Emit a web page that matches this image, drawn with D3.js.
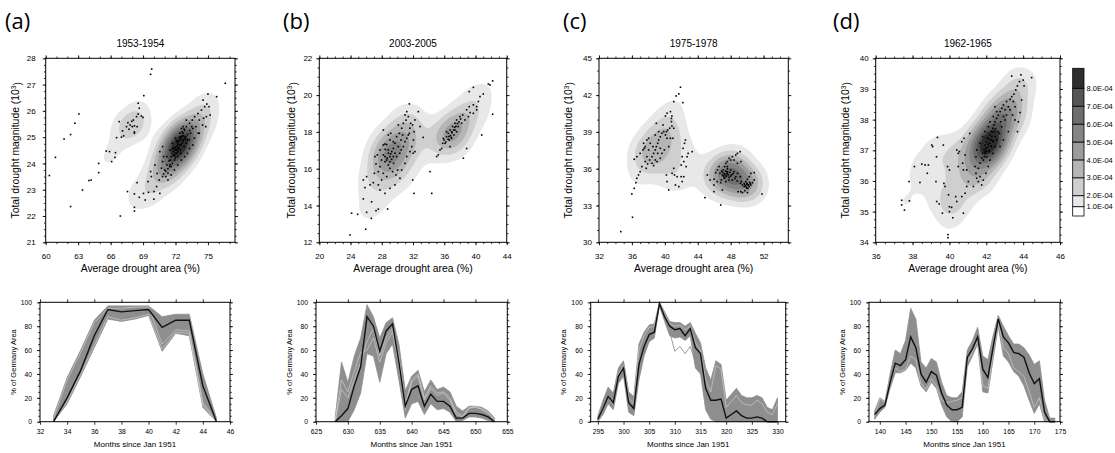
<!DOCTYPE html>
<html><head><meta charset="utf-8">
<script src="https://cdn.jsdelivr.net/npm/d3@7"></script>
<style>body{margin:0;background:#fff;} svg{display:block;background:#fff;}</style>
</head><body><svg id="c" width="1115" height="453"></svg>
<script>
// ---------------- DATA ----------------
const letters = ["(a)", "(b)", "(c)", "(d)"];
const titles = ["1953-1954", "2003-2005", "1975-1978", "1962-1965"];

// scatter (average drought area %, total drought magnitude 10^3)
const scatterA = [[60.34,23.54],[60.9,24.23],[61.7,24.93],[62.3,25.1],[62.7,25.53],[63.07,25.88],[62.3,22.36],[63.4,22.99],[64.0,23.35],[64.2,23.37],[64.9,23.65],[64.9,24.0],[65.6,24.47],[65.9,24.45],[66.1,24.07],[66.4,24.23],[66.45,24.41],[66.55,24.98],[66.8,25.59],[67.0,25.0],[67.2,25.05],[66.9,22.0],[69.07,26.58],[69.7,27.39],[69.8,27.59],[76.6,27.05],[75.8,26.54],[75.0,26.64],
[67.1,25.24],[67.47,25.4],[67.6,25.55],[67.8,25.46],[68.0,25.4],[68.1,25.65],[68.2,25.2],[68.4,25.78],[68.55,25.88],[68.45,25.4],[68.65,26.1],[68.55,26.29],[68.85,25.8],[69.0,25.75],[67.7,25.3],[68.2,25.43],[67.95,25.6],[68.2,25.15],
[68.45,23.27],[67.56,22.93],[68.2,22.84],[68.2,22.33],[68.2,22.19],[68.65,22.71],[69.04,22.86],[69.2,22.61],[69.5,22.9],[69.47,23.31],[69.77,23.5],[69.7,23.69],[70.0,22.64],[70.0,22.93],[70.25,23.12],[70.55,22.86],[70.5,23.37],[70.3,23.62],[70.1,23.94],[70.7,23.82],[70.8,24.07],[70.9,24.26],[71.1,23.5],[71.3,23.63],[71.47,23.88],[71.53,24.13],[71.8,24.32],[71.93,24.51],[72.1,24.64],[72.2,24.77],[72.4,24.9],[72.55,25.02],[72.7,25.15],[72.85,25.27],[73.0,25.4],[73.3,25.53],[73.55,25.65],[73.77,25.78],[74.08,25.9],[74.4,26.03],[74.7,26.16],[74.9,26.26],[75.1,26.16],[75.2,25.84],[74.85,25.78],[74.8,25.4],[74.2,25.15],[73.9,25.4],[73.4,25.15],[73.1,24.9],[72.8,24.64],[72.5,24.38],[72.2,24.26],[71.9,24.13],[71.6,23.88],[71.2,24.26],[71.5,24.51],[71.7,24.77],[72.0,24.96],[72.4,25.15],[72.7,25.4],[73.0,25.65],[72.55,25.33],[72.1,24.51],[72.3,24.57],[72.4,24.7],[72.0,24.38],[71.75,24.57],[72.6,24.77],[72.75,24.9],[72.15,24.83],[72.25,24.45],[72.9,25.02],[73.0,24.77],[73.27,24.9],[73.3,24.57],[73.6,24.7],[73.75,24.96],[74.1,25.15],[71.2,23.94],[71.0,23.75],[70.8,23.5],[71.3,23.37],[71.6,23.56],[71.9,23.75],[72.2,23.94],[72.55,24.13],[72.85,24.26],[73.1,24.38],[70.55,24.45],[70.8,24.64],[74.5,25.46],[74.6,25.72],[74.2,25.65],[73.6,25.33],[74.55,26.41],
[71.4,24.1],[71.6,24.25],[71.8,24.45],[72.0,24.6],[72.2,24.7],[72.3,24.85],[72.5,24.95],[72.7,25.05],[71.9,24.3],[72.1,24.4],[72.3,24.6],[72.5,24.7],[72.7,24.85],[72.9,24.95],[71.7,24.0],[71.5,23.95],[71.9,24.6],[72.1,24.85],[72.4,25.0],[72.6,25.2],[73.1,25.1],[73.3,25.25],[72.0,24.2],[71.3,23.8],[72.8,25.3],[73.5,25.4],[70.9,23.6],[71.1,23.7],[72.45,24.5],[72.2,24.55]];

const scatterB = [[23.93,12.4],[24.14,13.58],[24.91,13.52],[25.94,12.71],[26.66,13.3],[26.06,13.63],[26.7,14.2],[25.64,14.36],[27.26,13.72],[27.56,13.8],[28.75,13.81],
[25.64,15.39],[26.06,15.57],[25.85,14.97],[26.5,15.12],[26.92,15.24],[27.05,15.75],[27.26,16.26],[27.43,16.75],[27.13,16.66],[27.77,17.02],[28.2,17.29],[28.41,17.34],[28.63,17.31],[28.45,17.05],[28.84,16.84],[29.05,16.66],[29.27,16.93],[29.48,17.1],[28.7,16.57],[28.41,16.38],[28.84,16.2],[29.05,16.02],[29.39,15.84],[29.82,15.66],[30.03,15.93],[29.52,16.29],[29.9,16.66],[30.3,16.84],[30.5,17.02],[30.76,17.2],[30.97,17.47],[31.2,17.65],[31.4,17.83],[31.53,17.92],[31.6,18.2],[31.7,18.47],[31.1,18.64],[30.97,18.92],[31.2,19.1],[31.53,19.52],[31.4,18.83],[30.76,18.47],[30.55,18.2],[30.25,17.92],[29.9,17.74],[29.48,17.47],[29.14,17.92],[29.05,17.56],[28.41,16.66],[28.63,16.47],[29.05,16.38],[29.27,16.51],[29.48,16.66],[29.69,16.84],[29.14,16.81],[28.84,17.02],[28.2,16.75],[27.98,16.47],[27.77,16.11],[27.56,15.84],[28.2,15.75],[28.63,15.57],[27.98,15.39],[27.56,15.12],[27.77,14.84],[28.41,14.66],[29.05,14.93],[29.69,15.12],[30.33,15.48],[30.55,15.93],[30.97,16.29],[31.2,16.66],[31.6,16.93],[31.84,17.2],[32.05,17.56],[32.13,18.01],[31.95,18.38],[32.25,18.65],[32.68,19.1],[32.25,16.93],[32.04,16.84],[31.96,15.39],[32.13,14.66],[29.69,17.38],[30.12,17.2],[30.46,17.56],[30.67,17.83],[30.12,18.38],[28.2,18.1],[28.84,17.83],
[33.3,17.7],[34.18,15.84],[34.4,14.66],[32.9,18.29],
[35.03,16.66],[35.24,16.75],[35.46,17.02],[35.67,17.1],[35.8,17.38],[35.97,17.56],[36.3,17.74],[36.52,17.92],[36.74,18.1],[37.08,18.29],[37.38,18.47],[37.59,18.65],[38.0,18.83],[38.36,18.92],[38.87,19.2],[39.2,19.37],[39.3,19.05],[39.73,19.47],[40.15,19.37],[40.37,19.65],[40.58,19.92],[41.0,20.06],[39.2,20.19],[39.73,20.42],[41.65,20.6],[41.86,20.55],[42.2,20.77],[42.2,18.96],[40.8,17.83],[38.87,17.1],[38.45,16.57],[36.95,17.65],[36.1,17.38],[36.65,17.56],[37.25,17.83],[37.59,18.01],[37.8,18.29],[38.23,18.47],[38.66,18.65],[39.1,18.83],[36.3,18.01],[35.88,17.65],[36.95,18.01],[37.38,18.1],[36.74,17.2],[39.73,19.01],[40.15,19.2],
[36.5,17.6],[36.8,17.8],[37.0,17.95],[37.2,18.1],[37.5,18.3],[37.7,18.45],[36.2,17.45],[37.9,18.55],[38.1,18.7],[36.6,17.75],[37.35,18.25],[36.9,17.7]];

const scatterC = [[34.65,30.87],[36.07,32.04],[35.99,33.94],[36.28,34.4],[41.9,42.64],[41.7,42.1],[41.37,41.93],[41.08,41.47],[42.18,41.39],[40.68,40.65],[40.27,40.52],[40.07,40.3],[46.79,33.04],[44.87,33.64],[51.8,33.94],[43.32,37.39],
[36.48,34.86],[36.6,35.22],[36.8,35.49],[37.0,35.76],[37.21,36.17],[36.28,36.77],[36.6,36.98],[37.0,37.25],[37.34,37.53],[37.5,37.66],[37.62,37.8],[37.42,38.07],[37.82,38.34],[38.03,38.48],[38.23,38.07],[38.03,37.53],[37.82,36.98],[37.62,36.58],[38.15,36.71],[38.44,36.98],[38.64,37.25],[38.84,37.53],[38.97,37.8],[39.13,38.07],[39.25,38.34],[39.45,38.6],[39.65,38.89],[39.86,39.02],[40.07,38.75],[40.19,39.02],[40.27,38.48],[40.35,39.16],[40.6,39.3],[40.68,38.48],[40.47,37.8],[39.45,37.66],[39.13,37.25],[38.84,36.71],[38.44,36.44],[37.9,36.38],[37.74,36.03],[38.64,36.25],[39.05,36.58],[39.45,36.85],[39.65,37.25],[39.94,37.53],[39.25,39.02],[38.97,39.7],[38.84,38.75],[38.56,37.8],[39.78,39.56],[40.8,40.1],[40.86,40.3],[40.8,39.84],[40.86,39.48],[41.08,39.3],[40.98,38.48],
[41.08,36.03],[40.88,35.62],[40.19,35.49],[40.27,34.95],[40.47,34.27],[41.29,34.67],[41.7,34.54],[41.49,35.35],[41.98,36.3],[42.1,36.98],[42.22,37.66],[42.39,38.07],[42.5,38.34],[42.3,36.58],[41.98,35.35],[42.1,34.95],[42.3,35.35],[42.7,36.98],[42.83,37.25],[42.59,36.17],[41.17,35.49],
[45.16,35.49],[45.48,35.08],[45.97,34.67],[46.18,35.68],[46.38,35.9],[46.58,36.17],[46.7,35.62],[46.99,35.49],[47.11,35.9],[47.27,36.17],[47.4,36.44],[47.6,36.58],[47.8,36.85],[48.0,36.71],[48.2,36.98],[48.4,36.71],[48.62,37.12],[48.82,37.25],[49.15,37.39],[46.87,35.08],[47.2,35.22],[46.78,34.86],[45.97,35.14],[46.38,34.95],[47.4,34.95],[47.6,35.62],[48.0,35.9],[48.4,35.76],[48.82,35.62],[49.15,35.35],[49.3,34.95],[49.43,34.67],[49.64,34.81],[49.84,34.95],[50.04,35.14],[50.25,35.35],[50.45,35.62],[50.86,35.68],[49.23,34.13],[49.43,34.05],[49.72,34.21],[49.96,34.4],[50.25,34.54],[50.45,34.67],[50.66,34.86],[50.86,35.08],[48.82,36.44],[49.23,36.58],[47.6,36.17],[47.8,35.08],[46.99,34.27],[45.97,34.13],[48.2,35.08],[48.62,35.35],[49.64,34.54],[50.04,34.05],[48.9,34.13],
[47.0,35.7],[47.2,35.6],[47.4,35.8],[47.5,35.4],[47.7,35.5],[47.9,35.7],[47.3,35.3],[46.9,35.8],[47.6,36.0],[48.1,35.5],[49.8,34.6],[50.0,34.8],[50.2,34.7],[49.9,34.5],[50.3,34.9],[49.7,34.7],[50.1,34.4],[48.5,35.2],[48.8,35.0],[49.2,34.8],
[47.3,35.5],[47.5,35.6],[47.8,35.3],[48.0,35.4],[47.1,35.4],[50.1,34.65],[50.4,34.8],[49.95,34.75],[47.6,35.75],[48.3,35.6]];

const scatterD = [[37.41,35.37],[37.41,35.22],[37.56,35.05],[37.81,35.98],[37.83,35.35],[38.1,36.47],[38.4,35.95],[38.5,36.55],[38.68,36.52],[38.8,36.25],[38.86,36.52],[39.04,37.17],[39.09,37.12],[39.3,36.79],[39.27,35.98],[39.35,37.42],[39.31,35.33],[39.44,35.25],[39.67,37.17],[39.76,35.82],[39.7,35.92],[39.62,34.95],[39.9,36.47],[40.0,36.36],[39.95,35.55],[40.0,35.16],[40.0,35.0],[39.92,34.25],[39.92,34.15],[40.18,34.8],
[40.34,35.49],[40.4,35.33],[40.67,35.49],[40.85,35.6],[40.76,34.95],[40.12,35.14],[40.94,35.82],[41.03,35.98],[41.3,35.82],[40.94,36.36],[40.85,36.85],[40.76,36.36],[40.72,36.58],[40.48,36.47],[40.4,37.01],[40.48,36.9],[40.54,36.96],[40.67,37.28],[40.8,37.39],[41.1,37.55],
[41.39,36.47],[41.44,36.25],[41.48,36.09],[41.57,35.98],[41.66,36.14],[41.57,36.41],[41.66,36.58],[41.75,36.74],[41.8,36.9],[41.88,37.01],[41.93,37.17],[42.02,37.28],[42.11,37.39],[42.2,37.5],[42.29,37.61],[42.35,37.72],[42.42,37.83],[42.47,37.93],[42.56,38.04],[42.65,38.15],[42.75,38.26],[42.84,38.37],[42.93,38.48],[43.1,38.59],[43.29,38.66],[43.38,38.75],[43.5,38.83],[43.6,38.97],[43.69,39.1],[43.8,39.24],[43.88,39.46],[43.38,39.42],[44.0,39.29],[44.05,39.1],[44.46,39.37],[43.83,38.23],[43.74,37.93],[43.69,37.61],[43.92,38.64],[43.56,38.42],[43.29,38.32],[43.1,38.15],[43.02,37.99],[42.84,37.77],[42.71,37.55],[42.56,37.34],[42.47,37.12],[42.35,36.9],[42.2,36.68],[42.11,36.47],[41.98,36.25],[41.84,36.03],[41.75,35.87],[42.02,36.79],[42.16,36.96],[42.29,37.12],[42.38,37.28],[42.29,37.34],[42.11,37.12],[41.93,36.9],[41.84,36.68],[42.02,36.96],[42.2,37.23],[41.98,37.07],[42.47,37.45],[42.65,37.61],[42.78,37.93],[42.93,38.1],[43.02,38.32],[43.2,38.42],[42.56,38.26],[42.38,38.1],[42.2,37.93],[42.11,37.77],[41.93,37.61],[41.8,37.45],[41.66,37.23],[41.48,37.01],[41.44,36.79],[42.47,38.42],[43.47,38.59],[43.43,38.15],[43.56,37.99],[43.2,37.61],[42.93,37.34],[42.75,37.12],
[42.1,37.2],[42.2,37.35],[42.3,37.45],[42.0,37.05],[41.9,36.8],[42.4,37.6],[42.5,37.7],[41.95,36.95],[42.15,37.0],[42.25,37.15],[42.05,37.4],[42.35,37.3]];

// axis domains & tick labels (scatter)
const xDomA = [60, 77.5], yDomA = [21, 28], xTicksA = [60,63,66,69,72,75], yTicksA = [21,22,23,24,25,26,27,28];
const xDomB = [20, 44], yDomB = [12, 22], xTicksB = [20,24,28,32,36,40,44], yTicksB = [12,14,16,18,20,22];
const xDomC = [32, 55], yDomC = [30, 45], xTicksC = [32,36,40,44,48,52], yTicksC = [30,33,36,39,42,45];
const xDomD = [36, 46], yDomD = [34, 40], xTicksD = [36,38,40,42,44,46], yTicksD = [34,35,36,37,38,39,40];
// peak density of each panel (read from shading)
const peakA = 9.4e-4, peakB = 5.6e-4, peakC = 6.8e-4, peakD = 9.4e-4;

// density levels / colour bar
const levels = [1e-4,2e-4,3e-4,4e-4,5e-4,6e-4,7e-4,8e-4];
const levelLabels = ["1.0E-04","2.0E-04","3.0E-04","4.0E-04","5.0E-04","6.0E-04","7.0E-04","8.0E-04"];
const levelColors = ["#e8e8e8","#cfcfcf","#b5b5b5","#9c9c9c","#858585","#6e6e6e","#555555","#2e2e2e"];

// ensemble time series (% of Germany area)
const monthsA = [33,34,35,36,37,38,39,40,41,42,43,44,45];
const meanA  = [0,20,43,72,94,92,93,94,79,85,85,30,0];
const upA    = [5,37,60,85,97,97,97,97,88,90,90,40,3];
const loA    = [0,15,38,62,86,84,86,89,59,74,72,12,0];
const lightA1= [0,17,40,64,88,85,87,90,61,75,74,14,0];
const lightA2= [3,35,58,83,95,95,96,96,65,77,76,16,1];

const monthsB = [628,629,630,631,632,633,634,635,636,637,638,639,640,641,642,643,644,645,646,647,648,649,650,651,652,653];
const meanB  = [0,5,11,30,46,88,80,59,76,82,50,13,27,30,13,23,17,17,13,3,3,7,7,6,4,0];
const upB    = [3,50,33,55,70,98,88,70,83,87,65,26,38,43,25,35,27,29,25,13,9,13,13,12,9,3];
const loB    = [0,0,0,10,24,57,55,33,57,65,35,3,15,17,6,15,10,11,8,0,1,4,4,3,1,0];
const lightB1= [0,27,20,35,50,67,78,55,70,78,55,15,35,40,20,30,24,25,20,8,5,12,12,11,8,1];
const lightB2= [1,35,25,42,58,60,70,50,66,75,48,10,33,38,18,28,22,24,18,6,4,11,13,10,7,2];

const monthsC = [295,296,297,298,299,300,301,302,303,304,305,306,307,308,309,310,311,312,313,314,315,316,317,318,319,320,321,322,323,324,325,326,327,328,329,330];
const meanC  = [2,11,21,16,38,45,16,11,48,63,73,75,99,88,80,77,78,72,78,62,57,28,18,18,19,3,6,9,5,3,3,4,3,0,0,0];
const upC    = [5,18,29,24,45,51,25,21,65,75,81,82,100,92,84,83,83,80,83,74,66,45,35,51,48,18,23,28,22,20,20,22,20,12,10,20];
const loC    = [0,6,15,10,32,38,8,5,35,55,67,70,97,84,72,70,71,68,72,45,40,10,2,0,0,0,0,0,0,0,0,0,0,0,0,0];
const memberC= [1,9,18,13,35,42,12,8,45,60,70,73,98,86,75,59,63,57,63,50,45,20,10,45,42,8,15,20,15,12,12,15,12,5,3,12];
const lightC = [1,10,20,15,40,47,20,15,60,72,79,80,99,90,82,80,81,77,80,66,60,35,25,47,44,12,17,22,16,14,14,18,15,8,6,15];

const monthsD = [139,140,141,142,143,144,145,146,147,148,149,150,151,152,153,154,155,156,157,158,159,160,161,162,163,164,165,166,167,168,169,170,171,172,173,174];
const meanD  = [6,11,14,33,49,47,52,71,62,40,33,42,39,24,14,10,10,12,54,61,71,44,37,62,86,71,66,58,57,54,41,32,36,8,0,0];
const upD    = [9,20,17,40,60,57,68,95,86,50,45,53,50,33,22,20,20,25,60,68,79,55,52,72,89,80,72,65,65,62,56,48,51,18,3,3];
const loD    = [2,8,12,28,41,41,43,49,45,30,25,33,28,14,4,0,0,4,46,55,65,25,24,52,80,55,50,42,38,30,18,7,15,0,0,0];
const lightD = [4,19,16,35,45,42,44,55,52,32,27,36,30,18,16,17,18,20,50,58,68,30,28,58,84,62,57,45,42,38,25,12,20,2,0,0];

const xDomBotA = [32,46], xTicksBotA = [32,34,36,38,40,42,44,46];
const xDomBotB = [625,655], xTicksBotB = [625,630,635,640,645,650,655];
const xDomBotC = [293.6,331.6], xTicksBotC = [295,300,305,310,315,320,325,330];
const xDomBotD = [137.9,175], xTicksBotD = [140,145,150,155,160,165,170,175];
const yTicksBot = [0,20,40,60,80,100];

// ---------------- DRAWING ----------------
const FONT = '"Liberation Sans", Arial, Helvetica, sans-serif';
const svg = d3.select('#c');
const TOP_T = 58.3, TOP_B = 242.3, BOT_T = 302.3, BOT_B = 421.7;
const fmt = d => String(d);

function styleAxis(a, fs){
  a.select('.domain').remove();
  a.selectAll('line').attr('stroke','#000').attr('stroke-width',0.8);
  a.selectAll('text').attr('font-family',FONT).attr('font-size',fs).attr('fill','#000');
  return a;
}
function drawAxes(g, x, y, w, h, o){
  styleAxis(g.append('g').attr('transform',`translate(0,${h})`).call(d3.axisBottom(x).tickValues(o.xt).tickSize(3).tickPadding(o.px).tickFormat(fmt)), o.fs);
  styleAxis(g.append('g').call(d3.axisLeft(y).tickValues(o.yt).tickSize(3).tickPadding(o.py).tickFormat(fmt)), o.fs);
  styleAxis(g.append('g').call(d3.axisTop(x).tickValues(o.xt).tickSize(3).tickFormat('')), o.fs);
  styleAxis(g.append('g').attr('transform',`translate(${w},0)`).call(d3.axisRight(y).tickValues(o.yt).tickSize(3).tickFormat('')), o.fs);
  const dx = x.domain(), dy = y.domain();
  if (o.xm){
    const mt = d3.range(Math.ceil(dx[0]/o.xm)*o.xm, dx[1]+1e-9, o.xm);
    styleAxis(g.append('g').attr('transform',`translate(0,${h})`).call(d3.axisBottom(x).tickValues(mt).tickSize(1.8).tickFormat('')), o.fs);
    styleAxis(g.append('g').call(d3.axisTop(x).tickValues(mt).tickSize(1.8).tickFormat('')), o.fs);
  }
  if (o.ym){
    const mt = d3.range(Math.ceil(dy[0]/o.ym)*o.ym, dy[1]+1e-9, o.ym);
    styleAxis(g.append('g').call(d3.axisLeft(y).tickValues(mt).tickSize(1.8).tickFormat('')), o.fs);
    styleAxis(g.append('g').attr('transform',`translate(${w},0)`).call(d3.axisRight(y).tickValues(mt).tickSize(1.8).tickFormat('')), o.fs);
  }
  g.append('rect').attr('width',w).attr('height',h).attr('fill','none').attr('stroke','#000').attr('stroke-width',1);
}

const topPanels = [
  {id:'a', pts:scatterA, xd:xDomA, yd:yDomA, xt:xTicksA, yt:yTicksA, xm:1, ym:0.25, peak:peakA, left:45.7, right:235, lx:5, bw:10, py:7, yto:30.5},
  {id:'b', pts:scatterB, xd:xDomB, yd:yDomB, xt:xTicksB, yt:yTicksB, xm:1, ym:0.5, peak:peakB, left:319.3, right:506.7, lx:283, bw:11.5, py:4, yto:27.6},
  {id:'c', pts:scatterC, xd:xDomC, yd:yDomC, xt:xTicksC, yt:yTicksC, xm:1, ym:1, peak:peakC, left:599, right:788.3, lx:563, bw:11.5, py:4, yto:31},
  {id:'d', pts:scatterD, xd:xDomD, yd:yDomD, xt:xTicksD, yt:yTicksD, xm:0.5, ym:0.25, peak:peakD, left:875.7, right:1060, lx:833, bw:11, py:4, yto:30.7}
];

topPanels.forEach((p, i) => {
  const w = p.right - p.left, h = TOP_B - TOP_T;
  const g = svg.append('g').attr('transform',`translate(${p.left},${TOP_T})`);
  const x = d3.scaleLinear().domain(p.xd).range([0,w]);
  const y = d3.scaleLinear().domain(p.yd).range([h,0]);
  g.append('clipPath').attr('id','clip'+p.id).append('rect').attr('width',w).attr('height',h);
  const gen = d3.contourDensity().x(d=>x(d[0])).y(d=>y(d[1])).size([w,h]).bandwidth(p.bw).cellSize(2);
  let maxD;
  if (typeof gen.contours === 'function') maxD = gen.contours(p.pts).max;
  else {
    const cs = gen.thresholds(300)(p.pts);
    maxD = d3.max(cs.filter(c => c.coordinates.length), c => c.value);
  }
  const thr = levels.map(l => l / p.peak * maxD);
  const cs = gen.thresholds(thr)(p.pts);
  g.append('g').attr('clip-path',`url(#clip${p.id})`)
    .selectAll('path').data(cs).join('path')
    .attr('d', d3.geoPath())
    .attr('fill', d => { let k = d3.leastIndex(thr, t => Math.abs(t - d.value)); return levelColors[k]; });
  g.append('g').selectAll('rect').data(p.pts).join('rect')
    .attr('x', d => x(d[0]) - 0.8).attr('y', d => y(d[1]) - 0.8)
    .attr('width', 1.6).attr('height', 1.6).attr('fill', '#000');
  drawAxes(g, x, y, w, h, {xt:p.xt, yt:p.yt, xm:p.xm, ym:p.ym, fs:8, px:8, py:p.py});
  g.append('text').attr('x', w/2).attr('y', -11.8).attr('text-anchor','middle')
    .attr('font-family',FONT).attr('font-size',10).text(titles[i]);
  g.append('text').attr('x', w/2).attr('y', h + 29.6).attr('text-anchor','middle')
    .attr('font-family',FONT).attr('font-size',10.4).text('Average drought area (%)');
  const yt = g.append('text').attr('transform',`translate(${-p.yto},${h/2}) rotate(-90)`)
    .attr('dy','0.35em').attr('text-anchor','middle').attr('font-family',FONT).attr('font-size',10.4);
  yt.append('tspan').text('Total drought magnitude (10');
  yt.append('tspan').attr('dy','-0.45em').attr('font-size',6.5).text('3');
  yt.append('tspan').attr('dy','0.45em').text(')');
  svg.append('text').attr('x', p.lx).attr('y', 29).attr('font-family','"Open Sans", "DejaVu Sans", sans-serif')
    .attr('font-size', 22).text(letters[i]);
});

// colour bar
const cbX = 1072.7, cbW = 11.3;
const cbY = d3.scaleLinear().domain([0, 1e-4, 2e-4, 8e-4, 9e-4]).range([216, 206.7, 195.7, 88.3, 68.3]);
const cbEdges = [0].concat(levels).concat([9e-4]);
const cbCols = ['#ffffff'].concat(levelColors);
svg.append('g').selectAll('rect').data(cbCols).join('rect')
  .attr('x', cbX).attr('width', cbW)
  .attr('y', (d,i) => cbY(cbEdges[i+1])).attr('height', (d,i) => cbY(cbEdges[i]) - cbY(cbEdges[i+1]))
  .attr('fill', d => d).attr('stroke', '#000').attr('stroke-width', 0.8);
svg.append('g').selectAll('text').data(levels).join('text')
  .attr('x', cbX + cbW + 2.5).attr('y', d => cbY(d)).attr('dy','0.35em')
  .attr('font-family', FONT).attr('font-size', 7.5).text((d,i) => levelLabels[i]);

// bottom panels
const botPanels = [
  {m:monthsA, mean:meanA, up:upA, lo:loA, lights:[lightA1, lightA2], grays:[], xd:xDomBotA, xt:xTicksBotA, left:40, right:230},
  {m:monthsB, mean:meanB, up:upB, lo:loB, lights:[lightB1, lightB2], grays:[], xd:xDomBotB, xt:xTicksBotB, left:316, right:507.3},
  {m:monthsC, mean:meanC, up:upC, lo:loC, lights:[lightC], grays:[memberC], xd:xDomBotC, xt:xTicksBotC, left:590.7, right:785.7},
  {m:monthsD, mean:meanD, up:upD, lo:loD, lights:[lightD], grays:[], xd:xDomBotD, xt:xTicksBotD, left:869, right:1060}
];
botPanels.forEach(p => {
  const w = p.right - p.left, h = BOT_B - BOT_T;
  const g = svg.append('g').attr('transform',`translate(${p.left},${BOT_T})`);
  const x = d3.scaleLinear().domain(p.xd).range([0,w]);
  const y = d3.scaleLinear().domain([0,100]).range([h,0]);
  const idx = p.m.map((d,i) => i);
  const area = d3.area().x(i => x(p.m[i])).y0(i => y(p.lo[i])).y1(i => y(p.up[i]));
  g.append('path').attr('d', area(idx)).attr('fill','#8e8e8e').attr('stroke','#8e8e8e').attr('stroke-width',0.8);
  p.grays.forEach(s => {
    g.append('path').attr('d', d3.line().x(i => x(p.m[i])).y(i => y(s[i]))(idx))
      .attr('fill','none').attr('stroke','#8e8e8e').attr('stroke-width',0.9);
  });
  p.lights.forEach(s => {
    g.append('path').attr('d', d3.line().x(i => x(p.m[i])).y(i => y(s[i]))(idx))
      .attr('fill','none').attr('stroke','#d6d6d6').attr('stroke-width',0.6);
  });
  g.append('path').attr('d', d3.line().x(i => x(p.m[i])).y(i => y(p.mean[i]))(idx))
    .attr('fill','none').attr('stroke','#111').attr('stroke-width',1.4);
  drawAxes(g, x, y, w, h, {xt:p.xt, yt:yTicksBot, xm:0, ym:5, fs:6.8, px:4, py:5});
  g.append('text').attr('x', w/2).attr('y', h + 22.6).attr('dy','0.35em').attr('text-anchor','middle')
    .attr('font-family',FONT).attr('font-size',8).text('Months since Jan 1951');
  g.append('text').attr('transform',`translate(${-27},${h/2}) rotate(-90)`).attr('dy','0.35em')
    .attr('text-anchor','middle').attr('font-family',FONT).attr('font-size',7.5).text('% of Germany Area');
});
</script>
</body></html>
